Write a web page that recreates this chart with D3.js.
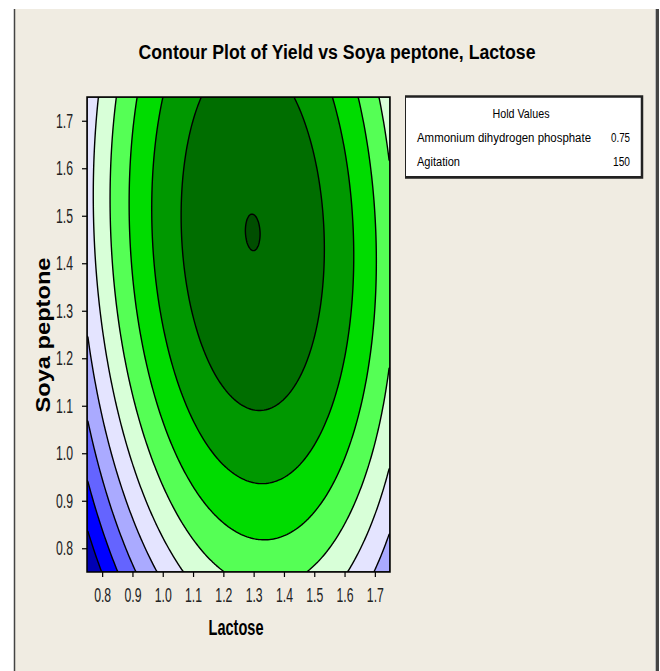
<!DOCTYPE html>
<html>
<head>
<meta charset="utf-8">
<script src="https://cdn.jsdelivr.net/npm/d3@7"></script>
<style>
  body { margin: 0; background: #fff; }
  text { font-family: "Liberation Sans Narrow", "Liberation Sans", Arial, sans-serif; }
</style>
</head>
<body>
<script>
// axis ticks and ranges
var lactoseTicks = [0.8, 0.9, 1.0, 1.1, 1.2, 1.3, 1.4, 1.5, 1.6, 1.7];
var soyaTicks = [0.8, 0.9, 1.0, 1.1, 1.2, 1.3, 1.4, 1.5, 1.6, 1.7];
var lactoseRange = [0.75, 1.75];
var soyaRange = [0.75, 1.75];

// fitted response surface for Yield
var termNames = ["Constant", "Lactose", "Soya peptone", "Lactose*Lactose",
                 "Soya peptone*Soya peptone", "Lactose*Soya peptone"];
var termCoefs = [-72.669, 100.98, 48.062, -36.5, -14.5, -4.3];

// contour levels and fills (lowest band first)
var yieldLevels = [10, 12, 14, 16, 18, 20, 22, 24, 26, 28];
var levelColors = ["#0000b4", "#0000ff", "#6464ff", "#aaaaff", "#e4e4ff",
                   "#d8ffd8", "#55ff55", "#00dc00", "#009800", "#006e00", "#004e00"];

// hold values box
var holdNames = ["Ammonium dihydrogen phosphate", "Agitation"];
var holdValues = ["0.75", "150"];

var width = 660,
    height = 671;
var plot = {left: 87, right: 390, top: 97, bottom: 572};

var x = d3.scaleLinear().domain(lactoseRange).range([plot.left, plot.right]);
var y = d3.scaleLinear().domain(soyaRange).range([plot.bottom, plot.top]);

var svg = d3.select("body").append("svg")
    .attr("width", width)
    .attr("height", height);

// beige panel with its frame
svg.append("rect")
    .attr("x", 14).attr("y", 9)
    .attr("width", 643).attr("height", height)
    .attr("fill", "#f0ece2");
svg.append("line")
    .attr("x1", 14.5).attr("x2", 14.5).attr("y1", 9).attr("y2", height)
    .attr("stroke", "#444").attr("stroke-width", 1.5);
svg.append("line")
    .attr("x1", 655.5).attr("x2", 655.5).attr("y1", 9).attr("y2", height)
    .attr("stroke", "#bbb").attr("stroke-width", 1);
svg.append("line")
    .attr("x1", 657.5).attr("x2", 657.5).attr("y1", 9).attr("y2", height)
    .attr("stroke", "#444").attr("stroke-width", 3);

// title
svg.append("text")
    .attr("x", 337).attr("y", 59)
    .attr("text-anchor", "middle")
    .attr("font-size", 20).attr("font-weight", "bold")
    .attr("textLength", 397).attr("lengthAdjust", "spacingAndGlyphs")
    .text("Contour Plot of Yield vs Soya peptone, Lactose");

// evaluate the surface on a grid
function predict(l, s) {
  var t = [1, l, s, l * l, s * s, l * s];
  return d3.sum(t, function(v, k) { return v * termCoefs[k]; });
}

var nx = 160, ny = 240;
var gx = d3.scaleLinear().domain([0, nx]).range(lactoseRange);
var gy = d3.scaleLinear().domain([0, ny]).range(soyaRange);
var values = new Array(nx * ny);
for (var j = 0; j < ny; j++) {
  for (var i = 0; i < nx; i++) {
    values[j * nx + i] = predict(gx(i + 0.5), gy(j + 0.5));
  }
}

var contours = d3.contours()
    .size([nx, ny])
    .thresholds(yieldLevels)(values);

var path = d3.geoPath(d3.geoTransform({
  point: function(px, py) { this.stream.point(x(gx(px)), y(gy(py))); }
}));

svg.append("clipPath").attr("id", "plotclip")
  .append("rect")
    .attr("x", plot.left).attr("y", plot.top)
    .attr("width", plot.right - plot.left).attr("height", plot.bottom - plot.top);

var g = svg.append("g").attr("clip-path", "url(#plotclip)");

g.append("rect")
    .attr("x", plot.left).attr("y", plot.top)
    .attr("width", plot.right - plot.left).attr("height", plot.bottom - plot.top)
    .attr("fill", levelColors[0]);

g.selectAll("path")
    .data(contours)
  .enter().append("path")
    .attr("d", path)
    .attr("fill", function(d, k) { return levelColors[k + 1]; })
    .attr("stroke", "#000")
    .attr("stroke-width", 1.4)
    .attr("stroke-linejoin", "round");

// plot border
svg.append("rect")
    .attr("x", plot.left).attr("y", plot.top)
    .attr("width", plot.right - plot.left).attr("height", plot.bottom - plot.top)
    .attr("fill", "none")
    .attr("stroke", "#000").attr("stroke-width", 1.5);

// axes
var fmt = d3.format(".1f");
var xAxis = svg.append("g")
    .attr("transform", "translate(0," + plot.bottom + ")")
    .call(d3.axisBottom(x).tickValues(lactoseTicks).tickFormat(fmt).tickSize(5).tickPadding(11));
var yAxis = svg.append("g")
    .attr("transform", "translate(" + plot.left + ",0)")
    .call(d3.axisLeft(y).tickValues(soyaTicks).tickFormat(fmt).tickSize(5).tickPadding(9));

[xAxis, yAxis].forEach(function(ax) {
  ax.select(".domain").remove();
  ax.attr("font-family", null).attr("font-size", null);
  ax.selectAll(".tick line").attr("stroke", "#000").attr("stroke-width", 1.2);
  ax.selectAll(".tick text")
      .attr("fill", "#222")
      .attr("font-size", 20)
      .attr("textLength", 17)
      .attr("lengthAdjust", "spacingAndGlyphs");
});

// axis titles
svg.append("text")
    .attr("x", 236).attr("y", 635)
    .attr("text-anchor", "middle")
    .attr("font-size", 22).attr("font-weight", "bold")
    .attr("textLength", 55).attr("lengthAdjust", "spacingAndGlyphs")
    .text("Lactose");

svg.append("text")
    .attr("transform", "translate(50,335) rotate(-90)")
    .attr("text-anchor", "middle")
    .attr("font-size", 20).attr("font-weight", "bold")
    .attr("textLength", 155).attr("lengthAdjust", "spacingAndGlyphs")
    .text("Soya peptone");

// hold values box
var box = svg.append("g");
box.append("rect")
    .attr("x", 405.5).attr("y", 96.5)
    .attr("width", 236).attr("height", 80)
    .attr("fill", "#fff")
    .attr("stroke", "#222").attr("stroke-width", 1);
box.append("path")
    .attr("d", "M405,96.5H642V177.5H405")
    .attr("fill", "none")
    .attr("stroke", "#222").attr("stroke-width", 2.5);

box.append("text")
    .attr("x", 521).attr("y", 118)
    .attr("text-anchor", "middle")
    .attr("font-size", 13)
    .attr("textLength", 57).attr("lengthAdjust", "spacingAndGlyphs")
    .text("Hold Values");

var nameLen = [174, 43], valueLen = [19, 17];
holdNames.forEach(function(name, k) {
  var by = 142 + k * 24;
  box.append("text")
      .attr("x", 417).attr("y", by)
      .attr("font-size", 12)
      .attr("textLength", nameLen[k]).attr("lengthAdjust", "spacingAndGlyphs")
      .text(name);
  box.append("text")
      .attr("x", 630).attr("y", by)
      .attr("text-anchor", "end")
      .attr("font-size", 12)
      .attr("textLength", valueLen[k]).attr("lengthAdjust", "spacingAndGlyphs")
      .text(holdValues[k]);
});
</script>
</body>
</html>
